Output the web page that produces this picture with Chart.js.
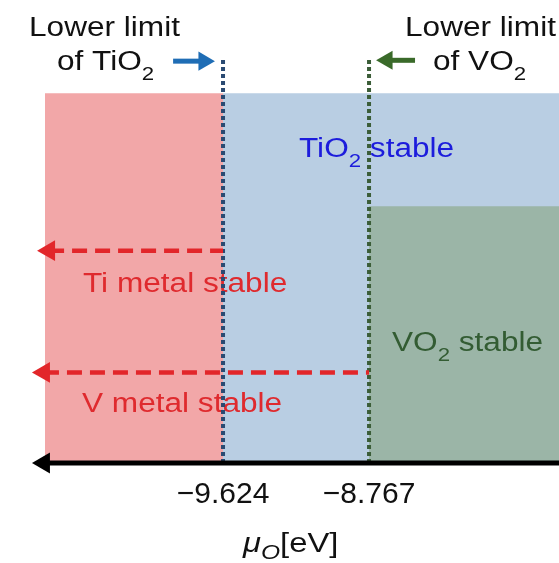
<!DOCTYPE html>
<html>
<head>
<meta charset="utf-8">
<script src="https://cdn.jsdelivr.net/npm/chart.js@4.4.0/dist/chart.umd.min.js"></script>
<style>
  html, body { margin: 0; padding: 0; background: #fff; }
  #wrap { width: 559px; height: 563px; }
</style>
</head>
<body>
<div id="wrap"><canvas id="phaseChart"></canvas></div>
<script>
// limites del potencial químico del oxígeno (eV)
var limitTiO2 = -9.624;
var limitVO2 = -8.767;
var tickValues = [limitTiO2, limitVO2];
var tickLabels = ['\u22129.624', '\u22128.767'];

// rango del eje x (eV); el eje y es una altura arbitraria 0-100
var xMin = -10.933;
var xMax = -7.652;
var regionLeft = -10.669;

// regiones de estabilidad: [inicio, fin, altura]
var tiMetalRegion = [regionLeft, limitTiO2, 87.4];
var tio2Region = [limitTiO2, xMax, 87.4];
var vo2Region = [limitVO2, xMax, 60.7];

// flechas discontinuas: [punta, fin, altura]
var tiMetalArrow = [-10.645, limitTiO2, 50.2];
var vMetalArrow = [-10.675, limitVO2, 21.4];
var axisArrow = [-10.675, xMax, 0];

// líneas punteadas de los límites y flechas de las etiquetas
var limitLineTop = 95.7;
var tio2Pointer = [-9.917, -9.736, 95.0];
var vo2Pointer = [-8.661, -8.497, 95.2];

var SX = 1.17; // el texto original está algo estirado en horizontal

function region(r, color, order) {
    return {
        data: [{x: r[0], y: r[2]}, {x: r[1], y: r[2]}],
        fill: 'origin',
        backgroundColor: color,
        borderColor: 'transparent',
        borderWidth: 0,
        pointRadius: 0,
        order: order
    };
}

function arrow(pts, color, width, dash, headRadius, headIdx, rotation, order) {
    return {
        data: pts,
        borderColor: color,
        borderWidth: width,
        borderDash: dash,
        borderCapStyle: 'butt',
        fill: false,
        clip: false,
        pointStyle: 'triangle',
        pointRadius: pts.map(function(p, i) { return i === headIdx ? headRadius : 0; }),
        pointRotation: pts.map(function() { return rotation; }),
        pointBackgroundColor: color,
        pointBorderWidth: 0,
        order: order
    };
}

function vline(x, color, order) {
    return {
        data: [{x: x, y: 0}, {x: x, y: limitLineTop}],
        borderColor: color,
        borderWidth: 4,
        borderDash: [4, 3],
        borderCapStyle: 'butt',
        pointRadius: 0,
        fill: false,
        order: order
    };
}

// texto con subíndices; cada parte: [texto, tamaño, desplazamiento, cursiva]
function drawText(ctx, parts, x, y, color) {
    ctx.save();
    ctx.fillStyle = color;
    ctx.textBaseline = 'alphabetic';
    ctx.textAlign = 'left';
    var cx = x;
    parts.forEach(function(p) {
        ctx.font = (p[3] ? 'italic ' : '') + p[1] + 'px "Liberation Sans", Arial, sans-serif';
        ctx.save();
        ctx.translate(cx, y + (p[2] || 0));
        ctx.scale(SX, 1);
        ctx.fillText(p[0], 0, 0);
        ctx.restore();
        cx += ctx.measureText(p[0]).width * SX;
    });
    ctx.restore();
}

var labelsPlugin = {
    id: 'labels',
    afterDatasetDraw: function(chart, args) {
        if (args.index !== 2) return; // después de la última región
        var ctx = chart.ctx;
        drawText(ctx, [['Lower limit', 27]], 29, 36, '#111');
        drawText(ctx, [['of TiO', 27], ['2', 19, 10]], 57, 70, '#111');
        drawText(ctx, [['Lower limit', 27]], 405, 36, '#111');
        drawText(ctx, [['of VO', 27], ['2', 19, 10]], 433, 70, '#111');
        drawText(ctx, [['TiO', 27], ['2', 19, 10], [' stable', 27]], 299, 157, '#1c1cdc');
        drawText(ctx, [['Ti metal stable', 27]], 83, 292, '#df2a2e');
        drawText(ctx, [['V metal stable', 27]], 82, 412, '#df2a2e');
        drawText(ctx, [['VO', 27], ['2', 19, 10], [' stable', 27]], 392, 351, '#335c33');
        drawText(ctx, [['\u03bc', 28, 0, true], ['O', 21, 7, true], ['[eV]', 28]], 243, 552, '#111');
    }
};

var ctx = document.getElementById('phaseChart').getContext('2d');
var phaseChart = new Chart(ctx, {
    type: 'line',
    data: {
        datasets: [
            region(tio2Region, '#b9cee3', 12),
            region(tiMetalRegion, '#f2a7a8', 11),
            region(vo2Region, '#9bb5a7', 10),
            vline(limitTiO2, '#2a4a72', 6),
            vline(limitVO2, '#3b5d38', 6),
            arrow([{x: tiMetalArrow[0], y: tiMetalArrow[2]}, {x: tiMetalArrow[1], y: tiMetalArrow[2]}],
                  '#e2262a', 4.5, [15, 8], 12, 0, -90, 4),
            arrow([{x: vMetalArrow[0], y: vMetalArrow[2]}, {x: vMetalArrow[1], y: vMetalArrow[2]}],
                  '#e2262a', 4.5, [15, 8], 12, 0, -90, 4),
            arrow([{x: tio2Pointer[0], y: tio2Pointer[2]}, {x: tio2Pointer[1], y: tio2Pointer[2]}],
                  '#1f6db5', 5, [], 11, 1, 90, 3),
            arrow([{x: vo2Pointer[0], y: vo2Pointer[2]}, {x: vo2Pointer[1], y: vo2Pointer[2]}],
                  '#3a6a2a', 5, [], 11, 0, -90, 3),
            arrow([{x: axisArrow[0], y: axisArrow[2]}, {x: axisArrow[1], y: axisArrow[2]}],
                  '#000', 5, [], 12, 0, -90, 1)
        ]
    },
    options: {
        responsive: true,
        maintainAspectRatio: false,
        animation: false,
        layout: { autoPadding: false, padding: { top: 40, left: 0, right: 0, bottom: 36 } },
        plugins: { legend: { display: false }, tooltip: { enabled: false } },
        scales: {
            x: {
                type: 'linear',
                min: xMin,
                max: xMax,
                grid: { display: false, drawTicks: false },
                border: { display: false },
                afterBuildTicks: function(scale) {
                    scale.ticks = tickValues.map(function(v) { return {value: v}; });
                },
                ticks: {
                    autoSkip: false,
                    maxRotation: 0,
                    padding: 14,
                    color: '#111',
                    font: { size: 30, family: '"Liberation Sans", Arial, sans-serif' },
                    callback: function(value, index) { return tickLabels[index]; }
                }
            },
            y: { display: false, min: 0, max: 100 }
        }
    },
    plugins: [labelsPlugin]
});
</script>
</body>
</html>
